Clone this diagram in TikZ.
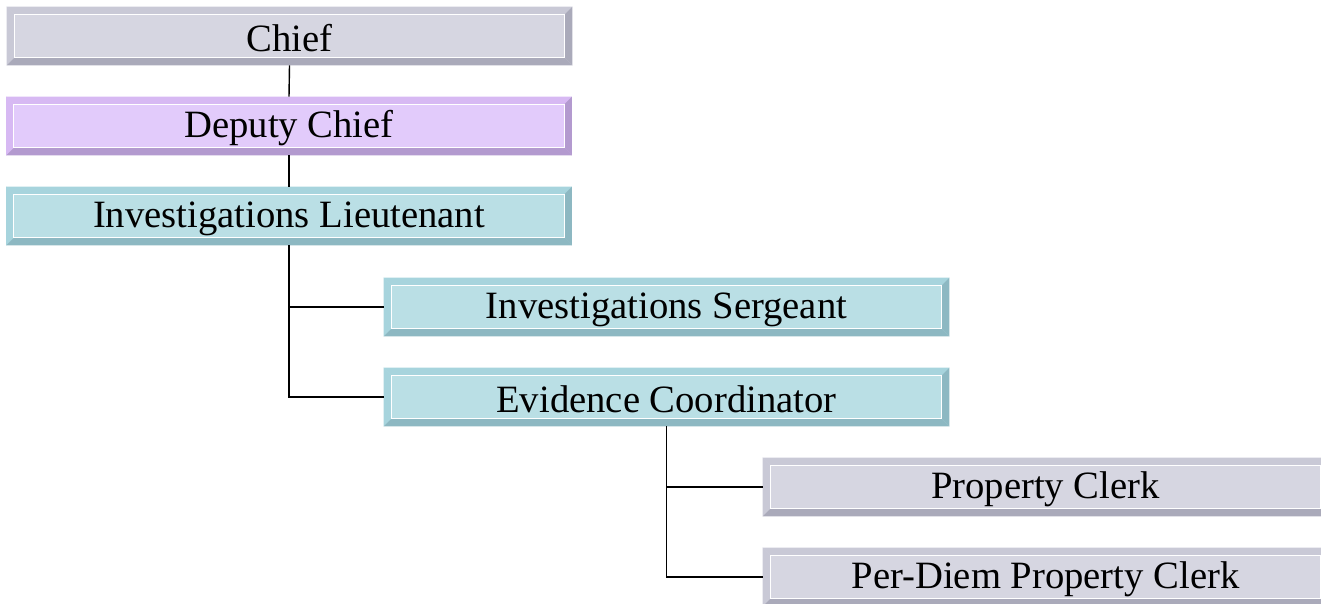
\documentclass[tikz,border=0pt]{standalone}
\usepackage{fontspec}
\setmainfont{Liberation Serif}
\usepackage{tikz}
\usetikzlibrary{calc}
\tikzset{post/.style={rectangle, minimum width=11.3cm, minimum height=1.16cm, inner sep=0pt}}
\tikzset{label/.style={font=\fontsize{22}{26}\selectfont, yshift=-0.05cm}}
\tikzset{link/.style={line width=0.8pt, black}}
\definecolor{grayface}{HTML}{D6D6E1}
\definecolor{graytop}{HTML}{C9C9D6}
\definecolor{graybot}{HTML}{AAAABA}
\definecolor{lilaface}{HTML}{E2CBFB}
\definecolor{lilatop}{HTML}{D7B9F3}
\definecolor{lilabot}{HTML}{B39ACF}
\definecolor{tealface}{HTML}{BADFE5}
\definecolor{tealtop}{HTML}{A7D4DD}
\definecolor{tealbot}{HTML}{8DB8C2}
% bevelled frame round a node: #1 node, #2 colour family
\newcommand{\bevel}[2]{
	\fill[#2top] (#1.north west) -- (#1.north east) -- ($(#1.north east)+(-0.15,-0.15)$) -- ($(#1.north west)+(0.15,-0.15)$) -- cycle;
	\fill[#2top] (#1.north west) -- (#1.south west) -- ($(#1.south west)+(0.15,0.15)$) -- ($(#1.north west)+(0.15,-0.15)$) -- cycle;
	\fill[#2bot] (#1.south west) -- (#1.south east) -- ($(#1.south east)+(-0.15,0.15)$) -- ($(#1.south west)+(0.15,0.15)$) -- cycle;
	\fill[#2bot] (#1.north east) -- (#1.south east) -- ($(#1.south east)+(-0.15,0.15)$) -- ($(#1.north east)+(-0.15,-0.15)$) -- cycle;
	\draw[white, line width=0.6pt] ($(#1.south west)+(0.15,0.15)$) rectangle ($(#1.north east)+(-0.15,-0.15)$);
}

\begin{document}
\begin{tikzpicture}
		\useasboundingbox (0,0) rectangle (26.42,-12.06);
		\begin{scope}
		\clip (0,0) rectangle (26.42,-12.06);
		\node[post, fill=grayface] (chief) at (5.79,-0.72) {};
		\bevel{chief}{gray}
		\node[label] at (chief) {Chief};
		
		\node[post, fill=lilaface] (deputy) at (5.78,-2.52) {};
		\bevel{deputy}{lila}
		\node[label] at (deputy) {Deputy Chief};
		
		\node[post, fill=tealface] (lieut) at (5.78,-4.32) {};
		\bevel{lieut}{teal}
		\node[label] at (lieut) {Investigations Lieutenant};
		
		\node[post, fill=tealface] (sergeant) at (13.33,-6.14) {};
		\bevel{sergeant}{teal}
		\node[label] at (sergeant) {Investigations Sergeant};
		
		\node[post, fill=tealface] (evidence) at (13.33,-7.94) {};
		\bevel{evidence}{teal}
		\node[label] at (evidence) {Evidence Coordinator};
		
		\node[post, fill=grayface] (clerk) at (20.91,-9.74) {};
		\bevel{clerk}{gray}
		\node[label] at (clerk) {Property Clerk};
		
		\node[post, fill=grayface] (perdiem) at (20.91,-11.54) {};
		\bevel{perdiem}{gray}
		\node[label] at (perdiem) {Per-Diem Property Clerk};
		
		\draw[link] (chief.south) -- (deputy.north);
		\draw[link] (deputy.south) -- (lieut.north);
		\draw[link] (lieut.south) |- (sergeant.west);
		\draw[link] (lieut.south) |- (evidence.west);
		\draw[link] (evidence.south) |- (clerk.west);
		\draw[link] (evidence.south) |- (perdiem.west);
		\end{scope}
	\end{tikzpicture}
\end{document}
